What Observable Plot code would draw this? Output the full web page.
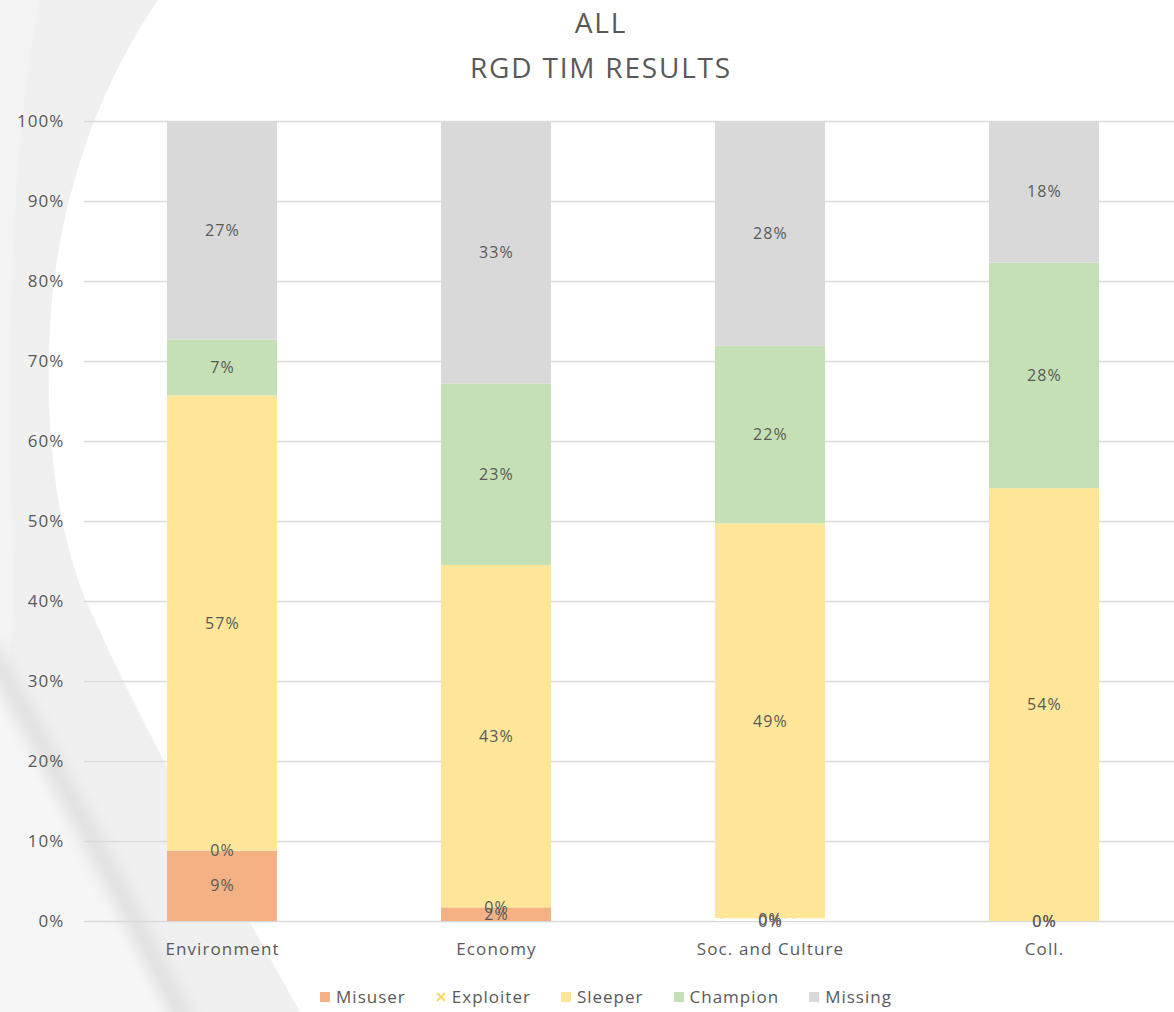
<!DOCTYPE html>
<html>
<head>
<meta charset="utf-8">
<script src="https://cdn.jsdelivr.net/npm/d3@7"></script>
<script src="https://cdn.jsdelivr.net/npm/@observablehq/plot@0.6"></script>
<style>
  html, body { margin: 0; padding: 0; background: #fff; }
  body { font-family: "Open Sans", sans-serif; color: #595959; }
  #wrap { position: relative; width: 1174px; height: 1012px; overflow: hidden; background: #fff; }
  #bg { position: absolute; left: 0; top: 0; }
  #title { position: absolute; left: 0; top: 0; width: 1202px; text-align: center; font-size: 28px; line-height: 45px; letter-spacing: 1.8px; color: #595959; }
  #chart { position: absolute; left: 0; top: 0; }
  #chart svg text { letter-spacing: 1.1px; }
  #legend { position: absolute; left: 0; top: 985px; width: 1212px; display: flex; justify-content: center; gap: 30px; font-size: 17px; letter-spacing: 1px; color: #595959; }
  .item { display: flex; align-items: center; gap: 6px; }
  .sw { width: 10px; height: 10px; display: inline-block; }
</style>
</head>
<body>
<div id="wrap">
  <svg id="bg" width="1174" height="1012">
    <defs>
      <filter id="blur"><feGaussianBlur stdDeviation="7"/></filter>
    </defs>
    <path d="M0,0 L158,0 C110,70 65,170 52,300 C42,420 55,540 95,620 C130,700 175,780 215,860 L300,1012 L0,1012 Z" fill="#f0f0f0"/>
    <path d="M0,0 L40,0 C15,120 8,300 10,450 C12,560 20,640 0,700 Z" fill="#f3f3f3"/>
    <path d="M0,660 C50,760 100,860 175,1012 L0,1012 Z" fill="#f6f6f6"/>
    <path d="M-10,650 C50,760 110,870 185,1020" stroke="#e2e2e2" stroke-width="22" fill="none" filter="url(#blur)"/>
  </svg>
  <div id="title">ALL<br>RGD TIM RESULTS</div>
  <div id="chart"></div>
  <div id="legend"></div>
</div>
<script>
// ---- data ----
const categories = ["Environment", "Economy", "Soc. and Culture", "Coll."];
const seriesNames = ["Misuser", "Exploiter", "Sleeper", "Champion", "Missing"];
const misuser   = [8.8, 1.7, 0.0, 0.0];
const exploiter = [0.0, 0.0, 0.3, 0.0];
const sleeper   = [56.9, 42.8, 49.4, 54.1];
const champion  = [7.0, 22.7, 22.2, 28.2];
const missing   = [27.3, 32.8, 28.1, 17.7];
const yTicks = [0, 10, 20, 30, 40, 50, 60, 70, 80, 90, 100];
const seriesColors = ["#f4b183", "#ffd966", "#ffe699", "#c5e0b4", "#d9d9d9"];

const seriesValues = [misuser, exploiter, sleeper, champion, missing];
const rows = [];
categories.forEach((c, i) => {
  seriesNames.forEach((s, j) => {
    rows.push({category: c, series: s, value: seriesValues[j][i]});
  });
});
const pct = d => Math.round(d.value) + "%";

const chart = Plot.plot({
  width: 1174,
  height: 970,
  marginTop: 121,
  marginBottom: 49,
  marginLeft: 84,
  marginRight: 0,
  style: {fontFamily: "Open Sans, sans-serif", fontSize: "17px", color: "#595959", background: "transparent"},
  x: {domain: categories, range: [85, 1181], paddingInner: 0.6, paddingOuter: 0.3, label: null, tickSize: 0, tickPadding: 21},
  y: {domain: [0, 100], ticks: yTicks, tickFormat: d => d + "%", label: null, tickSize: 0, tickPadding: 20},
  color: {domain: seriesNames, range: ["#f4b183", "#ffffff", "#ffe699", "#c5e0b4", "#d9d9d9"]},
  marks: [
    Plot.ruleY(yTicks, {stroke: "#d9d9d9", strokeWidth: 1.4}),
    Plot.barY(rows, {x: "category", y: "value", fill: "series", z: "series", order: seriesNames}),
    Plot.tickY(rows, Plot.stackY2({
      x: "category", y: "value", z: "series", order: seriesNames,
      stroke: "white", strokeWidth: 2, strokeDasharray: "5,4",
      strokeOpacity: {value: d => (d.series === "Exploiter" && d.value > 0) ? 1 : 0, scale: null}
    })),
    Plot.text(rows, Plot.stackY({
      x: "category", y: "value", z: "series", order: seriesNames,
      text: pct, fill: "#595959", fontSize: 16
    }))
  ]
});
document.getElementById("chart").appendChild(chart);

// legend
const legend = document.getElementById("legend");
seriesNames.forEach((s, j) => {
  const item = document.createElement("div");
  item.className = "item";
  if (s === "Exploiter") {
    item.innerHTML = `<svg width="10" height="10"><path d="M1,1L9,9M9,1L1,9" stroke="${seriesColors[j]}" stroke-width="2"/></svg><span>${s}</span>`;
  } else {
    item.innerHTML = `<span class="sw" style="background:${seriesColors[j]}"></span><span>${s}</span>`;
  }
  legend.appendChild(item);
});
</script>
</body>
</html>
